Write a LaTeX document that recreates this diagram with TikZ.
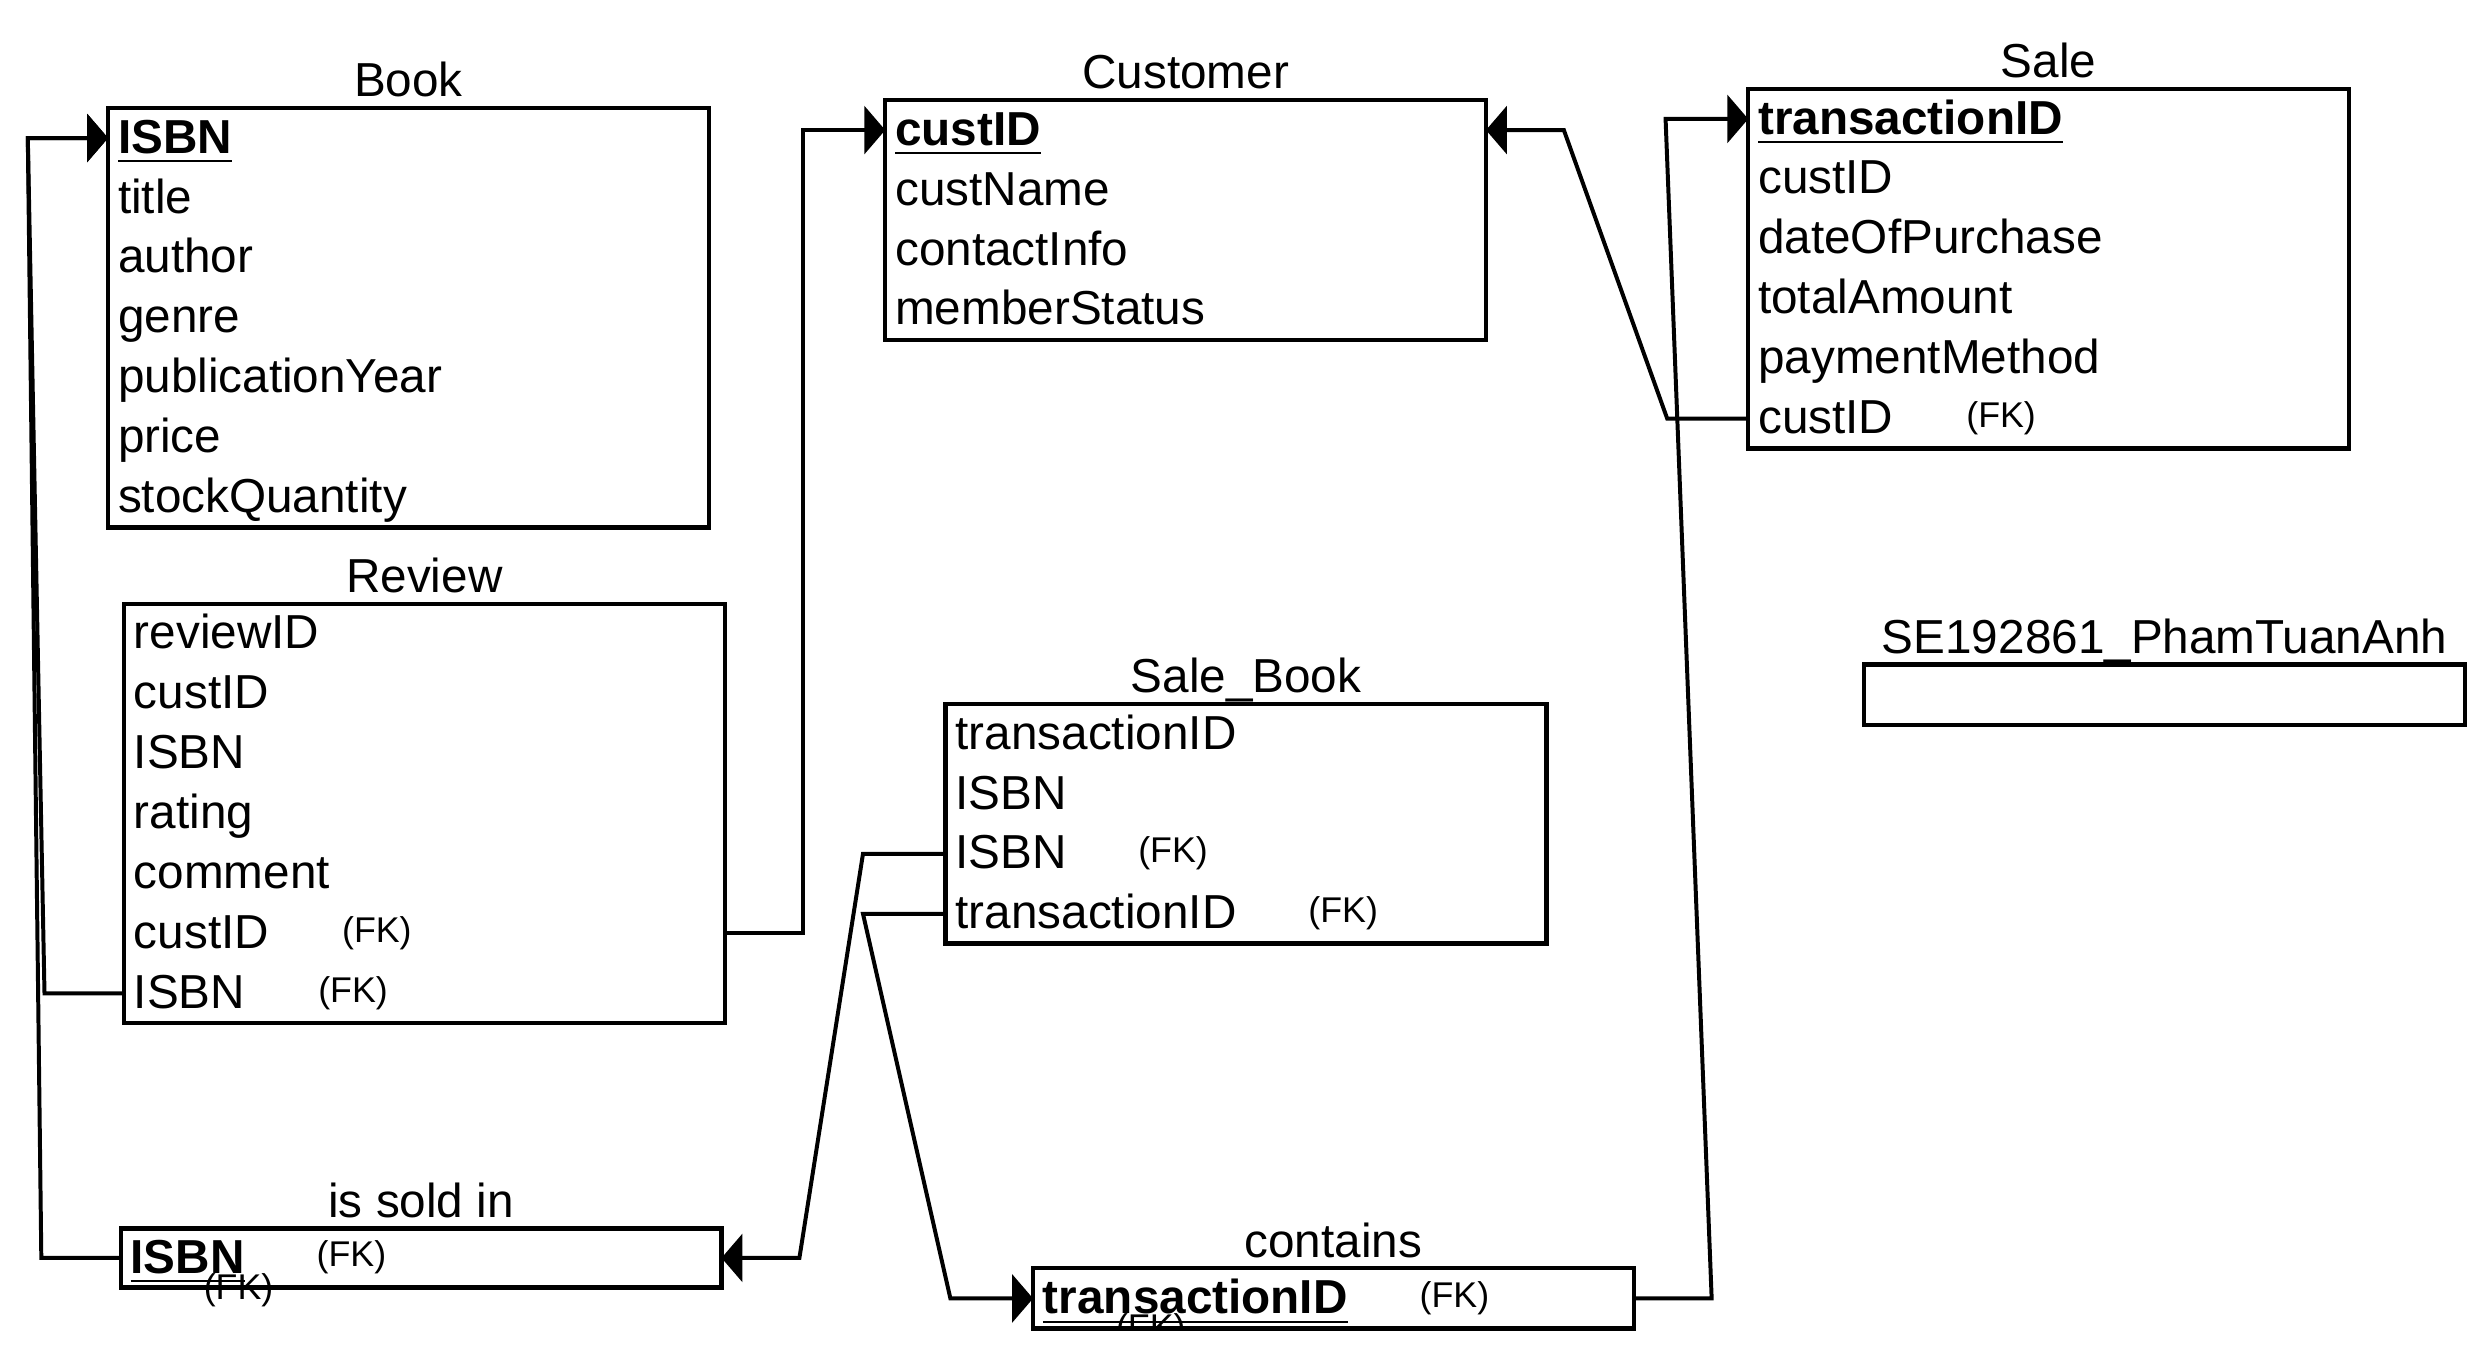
\documentclass[tikz,border=0pt]{standalone}
\usepackage{fontspec}
\setmainfont{Liberation Sans}
\usetikzlibrary{arrows.meta,positioning}

\newcommand{\keyf}[1]{\setbox0\hbox{\bfseries #1}\rlap{\rule[-4.6pt]{\wd0}{1.1pt}}\box0}

\tikzset{
  tbl/.style = {draw, line width=2.2pt, fill=white, minimum width=302.4pt,
                inner sep=0pt, outer sep=0pt, anchor=north west},
  ttl/.style = {anchor=base, inner sep=0pt, font=\fontsize{24}{28}\selectfont},
  fld/.style = {anchor=west, inner sep=0pt, text height=20.2pt, text depth=5pt,
                font=\fontsize{24}{28}\selectfont},
  fk/.style  = {anchor=base west, inner sep=0pt, font=\fontsize{18}{20}\selectfont},
  link/.style = {line width=2pt, -{Triangle[length=10.5pt, width=24pt]}},
}

\begin{document}
\begin{tikzpicture}[x=0.8pt, y=-0.8pt]
  \useasboundingbox (0,0) rectangle (1568,853);

  % tables
  \node[tbl, minimum height=211.1pt] (book) at (68,68) {};
  \node[ttl] at ([yshift=5.6pt]book.north) {Book};
  \foreach \f [count=\i] in {\keyf{ISBN},title,author,genre,publicationYear,price,stockQuantity}
    \node[fld] (book-\i) at (74,49.15+37.7*\i) {\f};

  \node[tbl, minimum height=120.6pt] (cust) at (557,63) {};
  \node[ttl] at ([yshift=5.6pt]cust.north) {Customer};
  \foreach \f [count=\i] in {\keyf{custID},custName,contactInfo,memberStatus}
    \node[fld] (cust-\i) at (563,44.15+37.7*\i) {\f};

  \node[tbl, minimum height=181pt] (sale) at (1100,56) {};
  \node[ttl] at ([yshift=5.6pt]sale.north) {Sale};
  \foreach \f [count=\i] in {\keyf{transactionID},custID,dateOfPurchase,totalAmount,paymentMethod,custID}
    \node[fld] (sale-\i) at (1106,37.15+37.7*\i) {\f};
  \node[fk] at (1237,268.9) {(FK)};

  \node[tbl, minimum height=211.1pt] (review) at (78,380) {};
  \node[ttl] at ([yshift=5.6pt]review.north) {Review};
  \foreach \f [count=\i] in {reviewID,custID,ISBN,rating,comment,custID,ISBN}
    \node[fld] (rv-\i) at (84,361.15+37.7*\i) {\f};
  \node[fk] at (215,592.9) {(FK)};
  \node[fk] at (200,630.6) {(FK)};

  \node[tbl, minimum height=120.6pt] (sb) at (595,443) {};
  \node[ttl] at ([yshift=5.6pt]sb.north) {Sale\_Book};
  \foreach \f [count=\i] in {transactionID,ISBN,ISBN,transactionID}
    \node[fld] (sb-\i) at (601,424.15+37.7*\i) {\f};
  \node[fk] at (716,542.8) {(FK)};
  \node[fk] at (823,580.5) {(FK)};

  \node[tbl, minimum height=30.4pt] (se) at (1173,418) {};
  \node[ttl] at ([yshift=5.6pt]se.north) {SE192861\_PhamTuanAnh};

  \node[tbl, minimum height=29.6pt] (sold) at (76,773) {};
  \node[ttl] at ([yshift=5.6pt]sold.north) {is sold in};
  \node[fld] (sold-1) at (82,791.5) {\keyf{ISBN}};
  \node[fk] at (199,797) {(FK)};
  \node[fk] at (128,817.5) {(FK)};

  \node[tbl, minimum height=30.4pt] (cont) at (650,798) {};
  \node[ttl] at ([yshift=5.6pt]cont.north) {contains};
  \begin{scope}
    \clip (cont.north west) rectangle (cont.south east);
    \node[fk] at (702,843) {(FK)};
  \end{scope}
  \node[fld] (cont-1) at (656,817) {\keyf{transactionID}};
  \node[fk] at (893,822.5) {(FK)};
  \draw[line width=2.2pt] (cont.north west) rectangle (cont.south east);

  % references
  \draw[link] (review.west |- rv-7) -- ++(-50,0) -- (17.5,86.85) -- (book.west |- book-1);
  \draw[link] (sold.west |- sold-1) -- ++(-50,0) -- (17.5,86.85) -- (book.west |- book-1);
  \draw[link] (review.east |- rv-6) -- ++(49,0) |- (cust.west |- cust-1);
  \draw[link] (sale.west |- sale-6) -- ++(-51,0) -- (984,81.85) -- (cust.east |- cust-1);
  \draw[link] (cont.east |- cont-1) -- ++(49,0) -- (1048,74.85) -- (sale.west |- sale-1);
  \draw[link] (sb.west |- sb-3) -- ++(-52,0) -- (503,791.5) -- (sold.east |- sold-1);
  \draw[link] (sb.west |- sb-4) -- ++(-52,0) -- (598,817) -- (cont.west |- cont-1);
\end{tikzpicture}
\end{document}
